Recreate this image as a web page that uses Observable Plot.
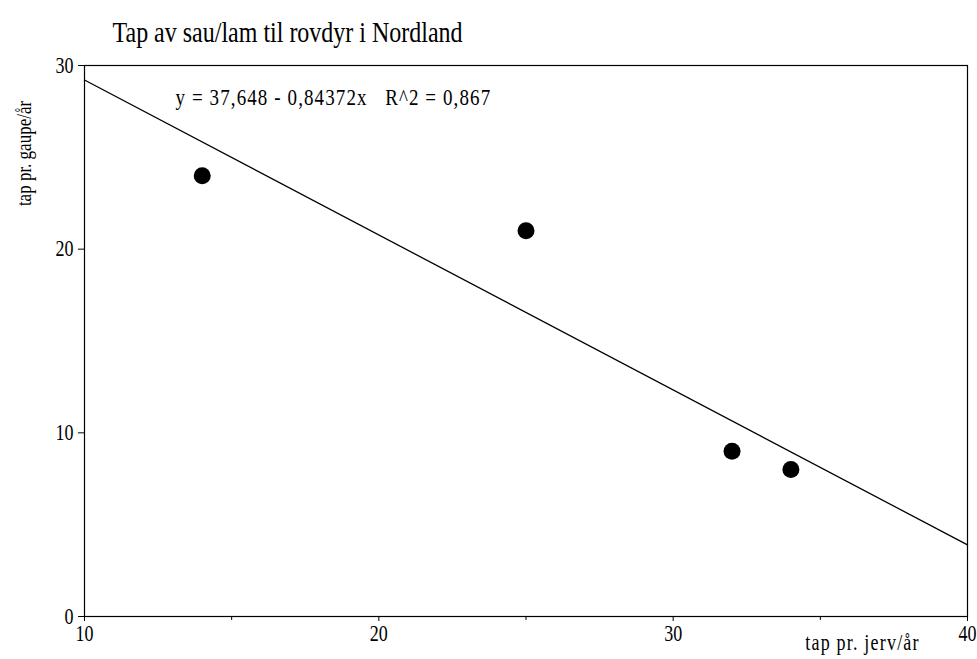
<!DOCTYPE html>
<html>
<head>
<meta charset="utf-8">
<script src="https://cdn.jsdelivr.net/npm/d3@7"></script>
<script src="https://cdn.jsdelivr.net/npm/@observablehq/plot@0.6"></script>
<style>
  html, body { margin: 0; padding: 0; background: #fff; }
</style>
</head>
<body>
<div id="chart"></div>
<script>
// Data
const jerv = [14, 25, 32, 34];        // tap pr. jerv/år
const gaupe = [24, 21, 9, 8];         // tap pr. gaupe/år
const intercept = 37.648;
const slope = -0.84372;
const lineXs = [10, 40];
const xTicks = [10, 20, 30, 40];
const xMinorTicks = [15, 25, 35];
const yTicks = [0, 10, 20, 30];
const titleText = "Tap av sau/lam til rovdyr i Nordland";
const eqText = "y = 37,648 - 0,84372x   R^2 = 0,867";
const xLabel = "tap pr. jerv/år";
const yLabel = "tap pr. gaupe/år";

const points = jerv.map((x, i) => ({x, y: gaupe[i]}));
const regLine = lineXs.map(x => ({x, y: intercept + slope * x}));

const font = "'Liberation Serif', 'Times New Roman', serif";

const chart = Plot.plot({
  width: 977,
  height: 659,
  marginLeft: 84,
  marginRight: 10,
  marginTop: 65,
  marginBottom: 43,
  style: {fontFamily: font, fontSize: "18px", color: "#000", background: "#fff"},
  x: {domain: [10, 40]},
  y: {domain: [0, 30]},
  marks: [
    Plot.frame({stroke: "#000", strokeWidth: 1.2}),
    Plot.axisY({ticks: yTicks, tickSize: 6, tickPadding: 5, label: null, fontSize: 18}),
    Plot.axisX({ticks: xTicks, tickSize: 5, tickPadding: 5, label: null, fontSize: 18}),
    Plot.axisX({ticks: xMinorTicks, tickSize: 4, tickFormat: () => "", label: null}),
    Plot.line(regLine, {x: "x", y: "y", stroke: "#000", strokeWidth: 1.3}),
    Plot.dot(points, {x: "x", y: "y", r: 8.5, fill: "#000", stroke: "none"}),
    Plot.text([titleText], {frameAnchor: "top-left", dx: 28, dy: -26, textAnchor: "start", lineAnchor: "bottom", fontSize: 24}),
    Plot.text([eqText], {frameAnchor: "top-left", dx: 91, dy: 32, textAnchor: "start", lineAnchor: "middle", fontSize: 19}),
    Plot.text([xLabel], {frameAnchor: "bottom-right", dx: -105, dy: 26, textAnchor: "middle", lineAnchor: "middle", fontSize: 18}),
    Plot.text([yLabel], {frameAnchor: "top-left", dx: -60, dy: 88, rotate: -90, textAnchor: "middle", lineAnchor: "middle", fontSize: 17})
  ]
});

document.getElementById("chart").appendChild(chart);

// The scanned reference has slightly tall, widely spaced type
d3.select(chart).selectAll("text").each(function () {
  const t = this.getAttribute("transform") || "";
  const txt = this.textContent;
  if (txt === eqText) this.style.letterSpacing = "1.1px";
  if (txt === xLabel) this.style.letterSpacing = "1.2px";
  if (txt === "") return;
  const b = this.getBBox();
  const cy = b.y + b.height / 2;
  this.setAttribute("transform", `${t} translate(0,${cy}) scale(1,1.25) translate(0,${-cy})`);
});
</script>
</body>
</html>
